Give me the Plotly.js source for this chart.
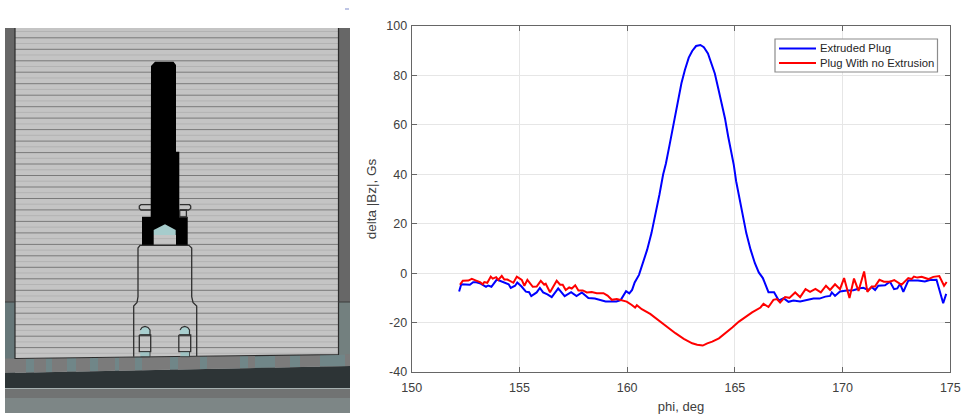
<!DOCTYPE html>
<html>
<head>
<meta charset="utf-8">
<script src="https://cdn.plot.ly/plotly-3.0.1.min.js"></script>
<style>html,body{margin:0;padding:0;background:#fff}#c{width:963px;height:414px}</style>
</head>
<body>
<div id="c"></div>
<script>
const blueName = "Extruded Plug";
const redName = "Plug With no Extrusion";
const xTitle = "phi, deg";
const yTitle = "delta |Bz|, Gs";
const xTicks = [150,155,160,165,170,175];
const yTicks = [-40,-20,0,20,40,60,80,100];

const bluePhi = [152.2,152.3,152.5,152.7,152.85,153.0,153.2,153.35,153.45,153.55,153.7,153.95,154.1,154.25,154.5,154.6,154.8,154.9,155.1,155.3,155.45,155.55,155.8,155.95,156.1,156.3,156.5,156.8,157.1,157.4,157.65,157.9,158.2,158.5,158.75,159.0,159.5,159.7,159.95,160.1,160.23,160.35,160.55,160.73,160.93,161.13,161.3,161.5,161.67,161.8,161.97,162.17,162.35,162.52,162.68,162.86,163.02,163.2,163.4,163.56,163.75,163.92,164.07,164.23,164.38,164.54,164.69,164.85,164.95,165.06,165.22,165.37,165.53,165.73,165.93,166.11,166.3,166.56,166.82,167.04,167.26,167.49,167.72,168.03,168.34,168.65,168.93,169.2,169.42,169.5,169.65,169.88,170.19,170.5,170.81,170.96,171.2,171.35,171.51,171.66,171.97,172.2,172.39,172.54,172.67,172.82,173.05,173.28,173.5,173.82,174.05,174.36,174.49,174.67,174.81];
const blueDelta = [-7.4,-4.5,-4.6,-4.7,-3.7,-3.7,-4.2,-4.8,-5.5,-5,-5.5,-2.6,-3.2,-3.7,-4.5,-6,-5.1,-3.8,-5.4,-7.5,-7.7,-9.3,-7.8,-6,-7.8,-8.6,-9.7,-6.2,-9.3,-7.7,-9.3,-7.8,-10.1,-10.3,-10.9,-11.5,-11.5,-10.9,-7.3,-8.2,-6.8,-3.8,-0.7,4,9.5,16.2,23,31.8,39.9,44.4,51.9,61.3,70.1,76.8,82.2,87.2,89.9,91.9,92.3,91.4,88.9,84.9,80.8,74.7,68.8,62.7,55.3,48.4,43.8,37.2,29.7,22.3,16.2,9.5,4,0.3,-2,-7.7,-7.7,-11.1,-10.1,-11.6,-11.1,-11.5,-10.8,-10.3,-10.3,-9.5,-9.2,-7.8,-9.2,-7.4,-7,-6.9,-6.1,-5.9,-6.8,-5.6,-6.8,-5.1,-4.9,-3.5,-6.5,-6.2,-4.3,-7.6,-3,-3,-3,-3.4,-2.8,-2.7,-6.8,-12.2,-8.4];

const redPhi = [152.24,152.37,152.63,152.79,152.99,153.17,153.3,153.37,153.51,153.67,153.76,153.92,154.02,154.18,154.3,154.44,154.72,154.88,155.11,155.23,155.37,155.62,155.8,155.99,156.15,156.22,156.42,156.73,156.89,157.01,157.15,157.31,157.43,157.59,157.74,157.94,158.13,158.36,158.59,158.9,159.09,159.29,159.52,159.83,159.98,160.2,160.37,160.45,160.68,161.07,161.47,161.86,162.24,162.63,163.02,163.25,163.51,163.72,163.95,164.26,164.57,164.88,165.19,165.5,165.8,166.19,166.33,166.56,166.79,166.95,167.1,167.33,167.53,167.8,168.03,168.28,168.49,168.74,168.99,169.23,169.42,169.65,169.88,170.07,170.32,170.53,170.74,171.0,171.15,171.35,171.5,171.71,171.92,172.2,172.4,172.74,173.05,173.2,173.31,173.47,173.67,173.98,174.21,174.49,174.71,174.83];
const redDelta = [-4.7,-3.1,-3,-2.3,-3,-3.6,-4.5,-3.6,-3.9,-1.4,-2.2,-1.6,-2.7,-1.1,-2.6,-2.6,-3.9,-1.4,-2.7,-5.1,-2.7,-5.5,-5.4,-3.1,-4.7,-4.3,-7.7,-3.1,-4.7,-4.7,-6.8,-5.8,-6.2,-4.9,-7,-7,-7.8,-7.6,-8.1,-8.1,-9.1,-10.8,-10.5,-11.2,-11.5,-12.8,-13.9,-13,-14.6,-16.5,-19.3,-22,-24.3,-26.6,-28.4,-29,-29.3,-28.4,-27.7,-26.4,-24.3,-22,-19.6,-17.6,-15.9,-13.9,-12.4,-13.7,-10.8,-10.5,-11.9,-9.7,-10,-7.8,-9.7,-6.5,-7.6,-6.4,-7.8,-5.1,-6.8,-4.5,-6.5,-2,-10.1,-2.2,-7.2,0.7,-7.6,-5.4,-5.4,-2.7,-3.5,-3.5,-2.8,-4.7,-2,-2.4,-1.4,-1.8,-1.5,-2.4,-1.5,-1.2,-5.1,-3.6];

// Schematic outlines, in the drawing's own units
const wallX = [15,338,338,15];
const wallY = [28,28,354.5,358.5];
const slatDarkY = [37.8,49.3,60.8,72.2,83.7,95.2,106.7,118.1,129.6,141.1,152.6,164,175.5,187,198.5,209.9,221.4,232.9,244.4,255.8,267.3,278.8,290.3,301.7,313.2,324.7,336.2,347.6];
const slatLightY = [31.5,43.5,55,66.5,78,89.4,100.9,112.4,123.9,135.3,146.8,158.3,169.8,181.2,192.7,204.2,215.7,227.1,238.6,250.1,261.6,273,284.5,296,307.5,318.9,330.4,341.9,353.3];
const plugX = [151,155,173.5,176,176,179.3,179.3,187.7,187.7,176,176,153.7,153.7,142,142,150.7];
const plugY = [66,61.7,61.7,65,151.7,151.7,216.7,216.7,245.3,245.3,235,235,245.3,245.3,216.7,216.7];
const capX = [153.7,165,175.7,175.7,153.7];
const capY = [230,224.3,230,235,235];
const upperBodyX = [133.7,133.7,137,138,138,140,189,191.7,191.7,193,196.7,196.7];
const upperBodyY = [356.7,306,302.5,296.7,248,245.3,245.3,248,296.7,302.5,306,356];
const flangeLeftX = [151,141,139.3,139.3,141,151];
const flangeLeftY = [204.7,204.7,206,208.5,210,210];
const flangeRightX = [179.7,189.5,190.7,190.7,188.5,179.7];
const flangeRightY = [204.7,204.7,206,208.5,210,210];
const collarX = [179.7,186.4,186.4,179.7,179.7];
const collarY = [210,210,217,217,210];
const boltLeftX = [139.3,150.7,150.7,139.3,139.3];
const boltRightX = [178.8,190.7,190.7,178.8,178.8];
const boltY = [335,335,351.7,351.7,335];
const domeLeftX = [140.3,142,145,148,150,150,140.3];
const domeRightX = [180,181.7,184.7,187.7,189.5,189.5,180];
const domeY = [330,327.5,326.5,327.5,330,335,335];
const baseLeftX = [140.3,150,150,140.3];
const baseRightX = [180.5,189.5,189.5,180.5];
const baseY = [351.7,351.7,356.7,356.7];
const stripeLeft = [26,46,67,90,115,135,170,200,240,255,290,320];
const stripeRight = [34,52,76,98,119,142,178,207,248,275,300,345];

// Legend key, as figure pixels
const legendLabels = [blueName, redName];
const legendColors = ["#0000ff", "#ff0000"];
const legendRowY = [48.5, 63];

function poly(x, y, fill, line, w) {
  return {x:x, y:y, xaxis:"x2", yaxis:"y2", mode:"lines", fill:fill?"toself":"none",
    fillcolor:fill||undefined, line:{color:line||"rgba(0,0,0,0)", width:w||0.1},
    showlegend:false, hoverinfo:"skip", type:"scatter"};
}
function rows(ys, x0, x1) {
  const X=[], Y=[];
  ys.forEach(v=>{X.push(x0,x1,null);Y.push(v,v,null);});
  return [X,Y];
}
const traces = [];
traces.push(poly([5,15,15,5],[28,28,302,302],"#676767"));
traces.push(poly([338,350,350,338],[28,28,302,302],"#676767"));
traces.push(poly([5,15,15,5],[302,302,373,373],"#667779"));
traces.push(poly([338,350,350,338],[302,302,356,356],"#73807f"));
traces.push(poly([5,15,338,350,350,5],[358.5,358.5,354.5,354,366,373],"#7b7b7b"));
stripeLeft.forEach((a,i)=>{
  const b=stripeRight[i];
  const bot=v=>373-(v-5)*7/345, top=v=>358.5-(v-15)*4/323;
  traces.push(poly([a,b,b,a],[top(a),top(b),bot(b),bot(a)],"#708688"));
});
traces.push(poly([5,350,350,5],[373,366,388,388],"#2d3436"));
traces.push(poly([5,350,350,5],[388,388,413,413],"#717373"));
traces.push(poly([5,350,350,5],[398,398,413,413],"#7d8686"));
traces.push(poly([5,350],[388.5,388.5],null,"#a5b0b0",1.2));
traces.push(poly(wallX,wallY,"#c4c4c4"));
const dark=rows(slatDarkY,15,338), light=rows(slatLightY,15,338);
traces.push(poly(light[0],light[1],null,"#b3b3b3",1));
traces.push(poly(dark[0],dark[1],null,"#7a7a7a",1));
traces.push(poly([15,15,338.5,338.5],[28,358.5,354.5,28],null,"#2b2b2b",1.2));
traces.push(poly([5,15],[302,302],null,"#3c3c3c",1));
traces.push(poly([338,350],[302,302],null,"#3c3c3c",1));
traces.push(poly(plugX,plugY,"#000000"));
traces.push(poly(capX,capY,"#a6cccc"));
[[upperBodyX,upperBodyY],[flangeLeftX,flangeLeftY],[flangeRightX,flangeRightY],[collarX,collarY]].forEach(p=>{
  traces.push(poly(p[0],p[1],null,"#303030",1.3));
});
[[domeLeftX,boltLeftX,baseLeftX],[domeRightX,boltRightX,baseRightX]].forEach(p=>{
  traces.push(poly(p[0],domeY,"#a9cfcf","#303030",1.2));
  traces.push(poly(p[1],boltY,null,"#303030",1.3));
  traces.push(poly(p[2],baseY,"#9fc3c3","#303030",0.8));
});
traces.push(poly([345,349],[9,9],null,"#a9b2dc",1.5));

traces.push({x:bluePhi,y:blueDelta,name:blueName,mode:"lines",type:"scatter",showlegend:false,line:{color:"#0000ff",width:2}});
traces.push({x:redPhi,y:redDelta,name:redName,mode:"lines",type:"scatter",showlegend:false,line:{color:"#ff0000",width:2}});

const W=963,H=414;
const fam="Liberation Sans, Arial, sans-serif";
const tickFont={family:fam,size:12.5,color:"#404040"};
const px=v=>v/W, py=v=>1-v/H;
const shapes=[{type:"rect",xref:"paper",yref:"paper",x0:px(775),x1:px(937.5),y0:py(39),y1:py(72),
  fillcolor:"#fff",line:{color:"#8c8c8c",width:1.2},layer:"above"}];
const annotations=[];
legendLabels.forEach((t,i)=>{
  shapes.push({type:"line",xref:"paper",yref:"paper",x0:px(779),x1:px(816),y0:py(legendRowY[i]),y1:py(legendRowY[i]),
    line:{color:legendColors[i],width:2},layer:"above"});
  annotations.push({text:t,xref:"paper",yref:"paper",x:px(819),y:py(legendRowY[i]),xanchor:"left",yanchor:"middle",
    showarrow:false,xshift:0,font:{family:fam,size:11.3,color:"#262626"},borderpad:0});
});
const layout={
  width:W,height:H,margin:{l:0,r:0,t:0,b:0},paper_bgcolor:"#fff",plot_bgcolor:"#fff",showlegend:false,
  xaxis:{domain:[411.7/W,950.3/W],range:[150,175],tickvals:xTicks,ticktext:xTicks.map(String),ticks:"inside",ticklen:5,tickcolor:"#666",
    mirror:"ticks",showline:true,linecolor:"#666",linewidth:1,showgrid:true,gridcolor:"#e6e6e6",gridwidth:1,zeroline:false,tickfont:tickFont,ticklabelstandoff:4,
    title:{text:xTitle,font:{family:fam,size:13,color:"#404040"},standoff:9},automargin:false},
  yaxis:{domain:[(H-372)/H,(H-26)/H],range:[-40,100],tickvals:yTicks,ticktext:yTicks.map(v=>v<0?"-"+Math.abs(v):String(v)),ticks:"inside",ticklen:5,tickcolor:"#666",
    mirror:"ticks",showline:true,linecolor:"#666",linewidth:1,showgrid:true,gridcolor:"#e6e6e6",gridwidth:1,zeroline:false,tickfont:tickFont,ticklabelstandoff:1,
    title:{text:yTitle,font:{family:fam,size:13.5,color:"#404040"},standoff:6},automargin:false},
  xaxis2:{domain:[0,350/W],range:[0,350],visible:false,fixedrange:true,anchor:"y2"},
  yaxis2:{domain:[1/H,1],range:[413,0],visible:false,fixedrange:true,anchor:"x2"},
  shapes:shapes,annotations:annotations,
  hovermode:false
};
Plotly.newPlot("c",traces,layout,{displayModeBar:false,staticPlot:true});
</script>
</body>
</html>
